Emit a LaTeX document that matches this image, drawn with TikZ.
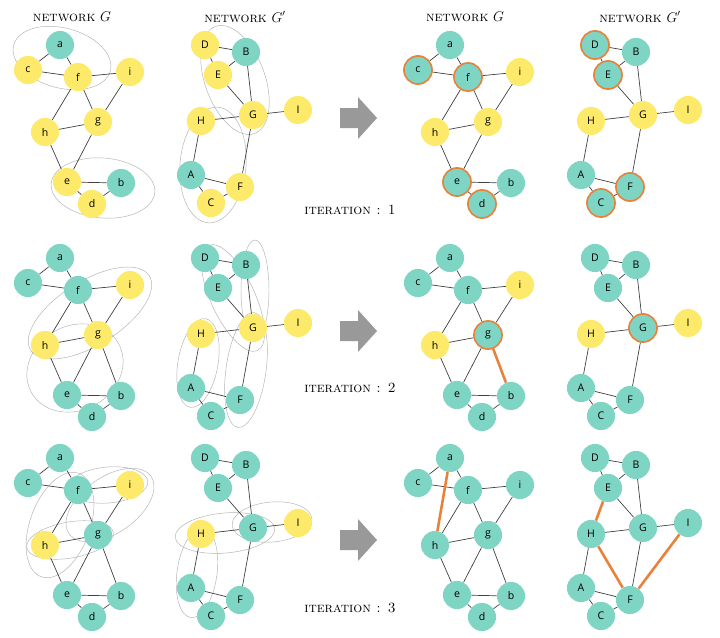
\documentclass[tikz,border=0pt]{standalone}
\usepackage{fontspec}
\setsansfont{Open Sans}
\usepackage{tikz}

\definecolor{tealnd}{HTML}{7FD5C4}
\definecolor{yelnd}{HTML}{FDE96A}
\definecolor{orring}{HTML}{E8823A}

\tikzset{
  nd/.style={circle, fill=tealnd, minimum size=24, inner sep=0pt, font=\sffamily\small},
  yel/.style={fill=yelnd},
  ring/.style={draw=orring, line width=1.4pt},
  ed/.style={draw=black!75, line width=0.6pt},
  hot/.style={draw=orring, line width=2.2pt},
  grp/.style={draw=black!30, line width=0.4pt},
  ttl/.style={font=\large},
  sta/.style={}, stb/.style={}, stc/.style={}, std/.style={}, ste/.style={},
  stf/.style={}, stg/.style={}, sth/.style={}, sti/.style={},
  stA/.style={}, stB/.style={}, stC/.style={}, stD/.style={}, stE/.style={},
  stF/.style={}, stG/.style={}, stH/.style={}, stI/.style={}
}

% network G at a shift, with per node looks
\newcommand\netG[3]{%
  \begin{scope}[shift={#2},#3]
    \foreach \n/\x/\y in {a/60/45,c/28/70,f/78/77,i/130/72,h/45/132,g/98/122,e/67/182,b/121/183,d/92/204}
      \node[nd,st\n] (#1\n) at (\x,\y) {\n};
    \foreach \u/\v in {a/c,a/f,c/f,f/i,f/h,f/g,i/g,h/g,h/e,g/e,e/b,e/d,d/b}
      \draw[ed] (#1\u) -- (#1\v);
  \end{scope}}
% network G' at a shift
\newcommand\netGp[3]{%
  \begin{scope}[shift={#2},#3]
    \foreach \n/\x/\y in {D/205/45,B/246/52,E/218/75,G/253/115,I/298/110,H/201/121,A/191/175,F/240/187,C/211/203}
      \node[nd,st\n] (#1\n) at (\x,\y) {\n};
    \foreach \u/\v in {D/B,D/E,E/B,E/G,B/G,H/G,G/I,H/A,G/F,A/F,A/C,C/F}
      \draw[ed] (#1\u) -- (#1\v);
  \end{scope}}

\begin{document}
\begin{tikzpicture}[x=0.03cm,y=-0.03cm]
  \useasboundingbox (0,0) rectangle (720,638);

  % titles
  \node[ttl] (t1) at (72,17) {\textsc{network} $G$};
  \node[ttl] (t2) at (245,17) {\textsc{network} $G'$};
  \node[ttl] (t3) at (465,17) {\textsc{network} $G$};
  \node[ttl] (t4) at (640,17) {\textsc{network} $G'$};

  % row 1
  \draw[grp] (62,58) ellipse [x radius=50, y radius=30, rotate=-15];
  \draw[grp] (103,188) ellipse [x radius=52, y radius=30, rotate=-5];
  \draw[grp] (235,80) ellipse [x radius=30, y radius=57, rotate=20];
  \draw[grp] (213,165) ellipse [x radius=33, y radius=58, rotate=-5];
  \netG{p}{(0,0)}{stc/.style=yel,stf/.style=yel,sti/.style=yel,sth/.style=yel,stg/.style=yel,ste/.style=yel,std/.style=yel}
  \netGp{q}{(0,0)}{stD/.style=yel,stE/.style=yel,stG/.style=yel,stI/.style=yel,stH/.style=yel,stF/.style=yel,stC/.style=yel}
  \netG{r}{(390,0)}{stc/.style=ring,stf/.style=ring,ste/.style=ring,std/.style=ring,sti/.style=yel,sth/.style=yel,stg/.style=yel}
  \netGp{s}{(390,0)}{stD/.style=ring,stE/.style=ring,stF/.style=ring,stC/.style=ring,stH/.style=yel,stG/.style=yel,stI/.style=yel}
  \fill[black!40] (340,108) -- (358,108) -- (358,97) -- (377,118) -- (358,139) -- (358,128) -- (340,128) -- cycle;
  \node[ttl] (it1) at (350,210) {\textsc{iteration : 1}};

  % row 2
  \draw[grp] (90,313) ellipse [x radius=70, y radius=32, rotate=32];
  \draw[grp] (75,368) ellipse [x radius=50, y radius=42, rotate=30];
  \draw[grp] (233,298) ellipse [x radius=22, y radius=58, rotate=25];
  \draw[grp] (255,290) ellipse [x radius=14, y radius=50, rotate=0];
  \draw[grp] (198,363) ellipse [x radius=20, y radius=45, rotate=-10];
  \draw[grp] (246,370) ellipse [x radius=20, y radius=58, rotate=-8];
  \netG{p2}{(0,213)}{sti/.style=yel,sth/.style=yel,stg/.style=yel}
  \netGp{q2}{(0,213)}{stH/.style=yel,stG/.style=yel,stI/.style=yel}
  \draw[ed] (p2g) -- (p2b);
  \netG{r2}{(390,213)}{sti/.style=yel,sth/.style=yel,stg/.style=ring}
  \netGp{s2}{(390,213)}{stH/.style=yel,stI/.style=yel,stG/.style=ring}
  \draw[hot] (r2g) -- (r2b);
  \fill[black!40] (340,321) -- (358,321) -- (358,310) -- (377,331) -- (358,352) -- (358,341) -- (340,341) -- cycle;
  \node[ttl] (it2) at (350,388) {\textsc{iteration : 2}};

  % row 3
  \draw[grp] (108,485) ellipse [x radius=40, y radius=18, rotate=5];
  \draw[grp] (110,505) ellipse [x radius=50, y radius=28, rotate=35];
  \draw[grp] (70,540) ellipse [x radius=44, y radius=18, rotate=10];
  \draw[grp] (60,525) ellipse [x radius=30, y radius=55, rotate=-20];
  \draw[grp] (225,533) ellipse [x radius=50, y radius=20, rotate=5];
  \draw[grp] (272,522) ellipse [x radius=40, y radius=20, rotate=5];
  \draw[grp] (197,573) ellipse [x radius=20, y radius=45, rotate=-8];
  \netG{p3}{(0,413)}{sti/.style=yel,sth/.style=yel}
  \netGp{q3}{(0,413)}{stH/.style=yel,stI/.style=yel}
  \draw[ed] (p3g) -- (p3b);
  \netG{r3}{(390,413)}{}
  \netGp{s3}{(390,413)}{}
  \draw[ed] (r3g) -- (r3b);
  \draw[hot] (r3a) -- (r3h);
  \draw[hot] (s3E) -- (s3H);
  \draw[hot] (s3H) -- (s3F);
  \draw[hot] (s3I) -- (s3F);
  \fill[black!40] (340,530) -- (358,530) -- (358,519) -- (377,540) -- (358,561) -- (358,550) -- (340,550) -- cycle;
  \node[ttl] (it3) at (350,608) {\textsc{iteration : 3}};
\end{tikzpicture}
\end{document}
